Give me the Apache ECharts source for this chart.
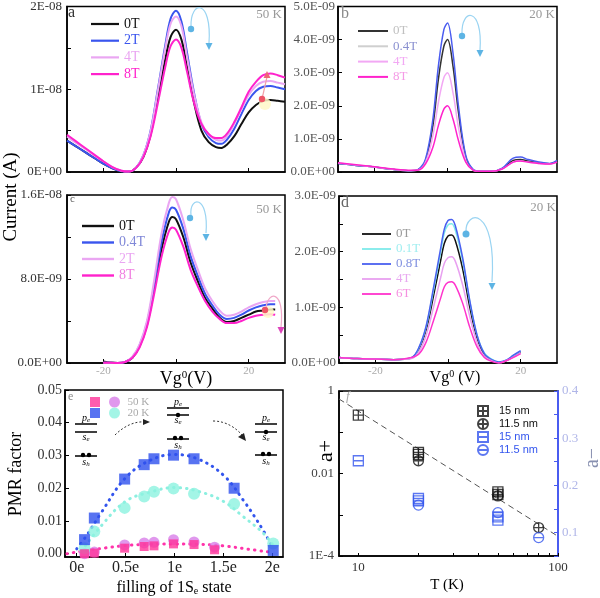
<!DOCTYPE html>
<html><head><meta charset="utf-8">
<script src="https://cdn.jsdelivr.net/npm/echarts@6.0.0/dist/echarts.min.js"></script>
<style>html,body{margin:0;padding:0;background:#fff;}#chart{width:600px;height:598px;}</style>
</head><body><div id="chart"></div>
<script>
// ================= DATA (currents in units of 1E-09 A) =================
const VG_A = [-30,-27.5,-25,-22.5,-20,-17.5,-15,-13,-11,-9,-7,-5,-3,-1.5,0,1.5,3,5,7,9,11,12.5,14,16,18,20,22,24,26,28,30];
const A_0T = [3.8,3.1,2.4,1.7,1.0,0.45,0.1,0.05,0.5,1.8,4.5,9.0,13.5,16.3,17.2,16.0,12.8,8.3,5.0,3.6,3.0,2.9,3.3,4.3,5.8,7.2,8.1,8.6,8.7,8.6,8.5];
const A_2T = [3.8,3.1,2.4,1.7,1.0,0.45,0.1,0.05,0.5,2.0,5.0,10.0,15.2,18.5,19.5,18.2,14.5,9.5,5.8,4.2,3.5,3.4,3.9,5.2,7.0,8.7,9.8,10.3,10.4,10.2,10.0];
const A_4T = [4.3,3.5,2.8,2.0,1.3,0.6,0.15,0.05,0.5,2.0,4.9,9.8,14.8,17.9,18.8,17.6,14.0,9.3,6.0,4.5,3.9,3.8,4.3,5.8,7.6,9.3,10.4,10.9,11.0,10.8,10.6];
const A_8T = [4.5,3.7,2.9,2.1,1.3,0.6,0.15,0.05,0.5,1.8,4.3,8.3,12.6,15.2,16.0,15.0,12.2,8.3,5.8,4.6,4.1,4.1,4.6,6.0,7.8,9.7,10.9,11.7,11.9,11.7,11.4];

const VG_B = [-30,-25,-20,-15,-10,-8,-6,-4,-2.5,-1,0,1.5,3,5,7,9,12,15,18,20,22,25,28,30];
const B_0T  = [0.26,0.20,0.15,0.08,0.04,0.07,0.35,1.4,2.8,3.8,4.0,3.2,1.8,0.45,0.07,0.02,0.02,0.10,0.35,0.38,0.33,0.28,0.25,0.33];
const B_04T = [0.26,0.20,0.15,0.08,0.04,0.08,0.40,1.6,3.2,4.3,4.5,3.6,2.0,0.50,0.08,0.02,0.02,0.12,0.42,0.45,0.38,0.30,0.26,0.35];
const B_4T  = [0.27,0.21,0.15,0.08,0.04,0.06,0.30,1.1,2.1,2.85,3.0,2.4,1.35,0.35,0.06,0.02,0.02,0.09,0.30,0.33,0.30,0.26,0.24,0.30];
const B_8T  = [0.28,0.22,0.16,0.09,0.05,0.06,0.25,0.75,1.4,1.9,2.0,1.6,0.95,0.30,0.06,0.02,0.02,0.09,0.30,0.33,0.30,0.26,0.24,0.30];

const VG_C = [-20,-18,-16,-14,-12,-10,-8,-6,-4,-2,-1,0,2,4,6,8,10,12,14,16,18,20,22,24,26,27.3];
const C_0T  = [0.15,0.05,0.0,0.1,0.5,1.6,3.6,7.0,10.8,13.4,13.9,13.7,12.0,9.6,7.8,6.2,5.2,4.3,3.9,4.0,4.3,4.6,4.9,5.0,5.1,5.1];
const C_04T = [0.02,0.02,0.0,0.1,0.55,1.7,3.8,7.4,11.5,14.3,14.8,14.6,12.8,10.2,8.3,6.6,5.5,4.6,4.2,4.3,4.6,5.0,5.3,5.5,5.6,5.6];
const C_2T  = [0.02,0.02,0.0,0.1,0.6,1.8,4.0,7.9,12.3,15.2,15.8,15.6,13.6,10.9,8.9,7.1,5.9,5.0,4.5,4.6,4.9,5.3,5.6,5.8,5.9,5.9];
const C_8T  = [0.02,0.02,0.0,0.1,0.5,1.5,3.4,6.6,10.1,12.5,12.9,12.7,11.1,8.9,7.3,5.9,4.9,4.2,3.8,3.8,4.0,4.3,4.5,4.6,4.65,4.6];

const VG_D = [-30,-25,-20,-15,-10,-8,-6,-4,-2,-1,0,1,2,4,6,8,10,12,14,16,18,20];
const D_0T  = [0.10,0.08,0.07,0.06,0.09,0.25,0.60,1.20,1.85,2.15,2.28,2.30,2.20,1.70,1.00,0.45,0.15,0.05,0.00,0.04,0.12,0.20];
const D_01T = [0.10,0.08,0.07,0.06,0.09,0.27,0.65,1.30,2.00,2.34,2.48,2.50,2.39,1.85,1.10,0.50,0.18,0.07,0.02,0.05,0.13,0.21];
const D_08T = [0.10,0.08,0.07,0.06,0.10,0.28,0.67,1.35,2.07,2.41,2.56,2.58,2.47,1.90,1.12,0.50,0.17,0.06,0.02,0.05,0.14,0.22];
const D_4T  = [0.10,0.08,0.07,0.06,0.08,0.20,0.50,1.00,1.54,1.79,1.89,1.91,1.83,1.41,0.83,0.37,0.12,0.04,0.00,0.04,0.10,0.18];
const D_6T  = [0.10,0.08,0.07,0.06,0.10,0.16,0.38,0.76,1.17,1.37,1.45,1.46,1.40,1.08,0.64,0.29,0.10,0.03,0.00,0.04,0.10,0.17];

const E_X20 = [0.08,0.18,0.49,0.69,0.79,0.99,1.2,1.61,2.01];
const E_20K_SQ = [0.0043,0.0109,0.0228,0.0272,0.0290,0.0301,0.0290,0.0200,0.0010];
const E_20K_CI = [0.0017,0.0068,0.0140,0.0175,0.0189,0.0199,0.0183,0.0152,0.0031];
const E_X50 = [0.08,0.18,0.49,0.69,0.79,0.99,1.2,1.41];
const E_50K_SQ = [0.0000,0.0002,0.0017,0.0022,0.0024,0.0030,0.0028,0.0012];
const E_50K_CI = [0.0000,0.0005,0.0027,0.0033,0.0035,0.0043,0.0036,0.0020];
const E_FIT20SQ_X = [0.0,0.1,0.25,0.5,0.75,1.0,1.25,1.5,1.7,1.9,2.0];
const E_FIT20SQ_Y = [0.0015,0.0055,0.0125,0.0232,0.0285,0.0303,0.0288,0.0240,0.0165,0.0075,0.0020];
const E_FIT20CI_X = [0.05,0.25,0.5,0.75,1.0,1.25,1.5,1.7,1.9,2.0];
const E_FIT20CI_Y = [0.0008,0.0085,0.0160,0.0188,0.0202,0.0190,0.0160,0.0114,0.0065,0.0030];
const E_FIT50_X = [-0.1,0.1,0.3,0.5,0.75,1.0,1.25,1.5,1.75,2.0];
const E_FIT50_Y = [0.0,0.0010,0.0018,0.0025,0.0029,0.0030,0.0029,0.0024,0.0014,0.0004];

const F_T15 = [10,20,20,50,50];
const F_AP15 = [0.26,0.0325,0.029,0.0036,0.0031];
const F_T115 = [20,50,80];
const F_AP115 = [0.0204,0.00286,0.00049];
const F_AM15 = [0.252,0.172,0.167,0.133,0.126];
const F_AM115 = [0.158,0.142,0.089];
const F_FIT_T = [8,100];
const F_FIT_A = [0.64,0.0003];

// tick labels
const A_YT = [0,10,20], A_YL = ['0E+00','1E-08','2E-08'];
const B_YT = [0,1,2,3,4,5], B_YL = ['0.0E+00','1.0E-09','2.0E-09','3.0E-09','4.0E-09','5.0E-09'];
const C_YT = [0,8,16], C_YL = ['0.0E+00','8.0E-09','1.6E-08'];
const D_YT = [0,1,2,3], D_YL = ['0.0E+00','1.0E-09','2.0E-09','3.0E-09'];
const VG_XT = [-20,20], VG_XL = ['-20','20'];
const E_XT = [0,0.5,1,1.5,2], E_XL = ['0e','0.5e','1e','1.5e','2e'];
const E_YT = [0,0.01,0.02,0.03,0.04,0.05], E_YL = ['0.00','0.01','0.02','0.03','0.04','0.05'];
const F_XT = [10,100], F_XL = ['10','100'];
const F_YT = [1e-4,0.01,1], F_YL = ['1E-4','0.01','1'];
const F_Y2T = [0.1,0.2,0.3,0.4], F_Y2L = ['0.1','0.2','0.3','0.4'];

// ================= HELPERS =================
const SERIF = "'Liberation Serif','DejaVu Serif',serif";
const SANS = "'Liberation Sans',Arial,sans-serif";
function xy(xs, ys){ return xs.map((x,i)=>[x, ys[i]]); }
function labeler(vals, labels){
  return v => { for (let i=0;i<vals.length;i++){ if (Math.abs(v-vals[i]) <= Math.abs(vals[i])*1e-6 + 1e-12) return labels[i]; } return ''; };
}
function curve(name, gi, xs, ys, color, width){
  return {type:'line', name, xAxisIndex:gi, yAxisIndex:gi, data:xy(xs,ys), smooth:0.35,
    symbol:'none', lineStyle:{color, width}, itemStyle:{color}, z:3, animation:false};
}
function vAxis(gi, o){
  return {
    gridIndex:gi, type:o.type||'value', min:o.min, max:o.max, interval:o.interval, position:o.position,
    logBase:o.logBase,
    axisLine:{show:true, onZero:false, lineStyle:{color:o.lineColor||'#000', width:o.lineWidth||1.5}},
    axisTick:Object.assign({show:true, inside:true, length:4, lineStyle:{color:o.lineColor||'#000', width:1}}, o.tick||{}),
    splitLine:{show:false}, minorTick:{show:false},
    axisLabel:Object.assign({show:true, fontFamily:SERIF, fontSize:13, color:'#333', margin:4}, o.label||{})
  };
}
function panelLegend(prefix, items, left, top, fs, gap, iw, lw){
  const icon = 'path://M0,0H' + iw + 'V' + lw + 'H0Z';
  return {orient:'vertical', left, top, itemWidth:iw, itemHeight:fs, itemGap:gap, selectedMode:false,
    symbolKeepAspect:true,
    data:items.map(it=>({name:prefix+'|'+it[0], icon, textStyle:{color:it[2]}, itemStyle:{color:it[1], borderWidth:0}})),
    formatter:n=>n.split('|')[1], textStyle:{fontFamily:SERIF, fontSize:fs, lineHeight:fs}};
}

// ================= GRAPHICS (annotations) =================
const G = [];
function txt(x,y,text,o){ o=o||{}; G.push({type:'text', x, y, rotation:o.rot||0, z:100,
  style:{text, fill:o.color||'#000', fontFamily:o.ff||SERIF, fontSize:o.size||14, fontStyle:o.italic?'italic':'normal',
  align:o.align||'center', verticalAlign:o.va||'middle', rich:o.rich}}); }
function dot(cx,cy,r,fill){ G.push({type:'circle', z:100, shape:{cx,cy,r}, style:{fill}}); }
function bez(p, stroke, w, dash){ G.push({type:'bezierCurve', z:100, shape:{x1:p[0],y1:p[1],cpx1:p[2],cpy1:p[3],cpx2:p[4],cpy2:p[5],x2:p[6],y2:p[7]}, style:{stroke, lineWidth:w, fill:'none', lineDash:dash||null}}); }
function tri(points, fill){ G.push({type:'polygon', z:100, shape:{points}, style:{fill}}); }
function seg(x1,y1,x2,y2,stroke,w){ G.push({type:'line', z:100, shape:{x1,y1,x2,y2}, style:{stroke, lineWidth:w}}); }
function triDown(x,y,c){ tri([[x-3.5,y-7],[x+3.5,y-7],[x,y]],c); }

const ARC='#9ad4f2', ADOT='#5db4e4';
// a
bez([191,27,190,0,212,-2,209,43],ARC,1.2); dot(191,29,3.2,ADOT); triDown(209,50,ADOT);
dot(265,104,6,'rgba(255,248,200,0.85)'); seg(262,99,267,77,'#f2a0a8',1.2); dot(262,99,3.2,'#ee5566');
tri([[263.5,78],[270.5,78],[267,71]],'#ee6677');
// b
bez([462,34,461,8,483,6,480,50],ARC,1.2); dot(462,36,3.2,ADOT); triDown(480,57,ADOT);
// c
bez([191,215,189,196,209,194,206,233],ARC,1.2); dot(190,218,3.2,ADOT); triDown(206,241,ADOT);
dot(268,312,6,'rgba(255,248,200,0.85)'); bez([266,308,268,290,285,290,281,327],'#f0a8c8',1.2);
dot(265,310,3.2,'#ee5566'); triDown(281,334,'#dd44bb');
// d
bez([466,232,465,210,497,205,492,282],ARC,1.2); dot(466,234,3.5,ADOT); triDown(492,290,ADOT);

// panel letters and temperatures
txt(68,13,'a',{size:16,color:'#333',align:'left'});
txt(341,14,'b',{size:16,color:'#888',align:'left'});
txt(70,199,'c',{size:11,color:'#555',align:'left'});
txt(341,203,'d',{size:16,color:'#666',align:'left'});
txt(68,397,'e',{size:12,color:'#888',align:'left'});
txt(346,397,'f',{size:13,color:'#aaa',align:'left',italic:true});
txt(282,15,'50 K',{size:13,color:'#999',align:'right'});
txt(555,15,'20 K',{size:13,color:'#999',align:'right'});
txt(282,210,'50 K',{size:13,color:'#999',align:'right'});
txt(556,208,'20 K',{size:13,color:'#999',align:'right'});

// axis titles
txt(11,197,'Current (A)',{size:19,rot:Math.PI/2});
txt(16,474,'PMR factor',{size:18,rot:Math.PI/2});
txt(174,588,'filling of 1S{s|e} state',{size:16,rich:{s:{fontSize:10,fontFamily:SERIF,fill:'#000',padding:[7,0,0,0]}}});
txt(326,451,'a+',{size:22,rot:Math.PI/2});
txt(593,458,'a\u2212',{size:20,rot:Math.PI/2,color:'#8890b0'});
txt(447,585,'T (K)',{size:15});
txt(186,379,'Vg{s|0}(V)',{size:18,rich:{s:{fontSize:11,fontFamily:SERIF,fill:'#000',padding:[0,0,8,0]}}});
txt(455,378,'Vg{s|0} (V)',{size:16,rich:{s:{fontSize:10,fontFamily:SERIF,fill:'#000',padding:[0,0,7,0]}}});

// energy-level sketches in panel e
const LV_RICH = {i:{fontFamily:SERIF,fontStyle:'italic',fontSize:10,fill:'#000'}, s:{fontFamily:SERIF,fontStyle:'italic',fontSize:7,fill:'#000',padding:[5,0,0,0]}};
function level(x,yPe,ySe,ySh,eDot){
  seg(x,yPe,x+22,yPe,'#000',1.5); seg(x,ySe,x+22,ySe,'#000',1.5); seg(x,ySh,x+22,ySh,'#000',1.5);
  txt(x+11,yPe-6,'{i|p}{s|e}',{rich:LV_RICH,size:10});
  txt(x+11,ySe+5,'{i|s}{s|e}',{rich:LV_RICH,size:10});
  dot(x+8,ySh-1,2.2,'#000'); dot(x+14,ySh-1,2.2,'#000');
  txt(x+11,ySh+6,'{i|s}{s|h}',{rich:LV_RICH,size:10});
  if (eDot) dot(x+11,ySe,2.2,'#000');
}
level(75,424,432,456,false);
level(167,408,415,439,true);
level(255,424,432,455,true);
bez([115,435,124,426,135,421,145,422],'#333',1,[2,2]); tri([[143,419],[143,425],[150,422]],'#222');
bez([213,421,226,421,236,428,242,435],'#333',1,[2,2]); tri([[238,437],[244,433],[246,441]],'#222');

// ================= SYMBOLS =================
const SQ_PLUS = 'path://M1,1H19V19H1Z M10,1V19 M1,10H19';
const CI_PLUS = 'path://M1,10A9,9 0 1,1 19,10A9,9 0 1,1 1,10Z M10,1V19 M1,10H19';
const SQ_MINUS = 'path://M1,1H19V19H1Z M1,10H19';
const CI_MINUS = 'path://M1,10A9,9 0 1,1 19,10A9,9 0 1,1 1,10Z M1,10H19';

// ================= OPTION =================
const BLK='#111', BLU='#3a55ee', LAV='#eaa6f2', MAG='#ff22cc', CYN='#7eeaea';
const vgTick = {customValues:[-20,0,20]};
const DOTS = {width:3, type:[0.5,6], cap:'round'};
const option = {
  animation:false,
  backgroundColor:'#fff',
  grid:[
    {left:67, top:5, width:218, height:167},
    {left:338, top:5, width:219, height:167},
    {left:67, top:195, width:218, height:168},
    {left:339, top:196, width:218, height:167},
    {left:65, top:390, width:218, height:167},
    {left:339, top:391, width:219, height:165}
  ].map(g=>Object.assign({show:true, borderColor:'#000', borderWidth:1.5, containLabel:false}, g)),
  xAxis:[
    vAxis(0,{min:-30,max:30,tick:vgTick,label:{show:false}}),
    vAxis(1,{min:-30,max:30,tick:vgTick,label:{show:false}}),
    vAxis(2,{min:-30,max:30,tick:vgTick,label:{customValues:VG_XT,formatter:labeler(VG_XT,VG_XL),color:'#aaa',fontSize:11,margin:3}}),
    vAxis(3,{min:-30,max:30,tick:vgTick,label:{customValues:VG_XT,formatter:labeler(VG_XT,VG_XL),color:'#aaa',fontSize:11,margin:3}}),
    vAxis(4,{min:-0.12,max:2.11,tick:{customValues:E_XT},label:{customValues:E_XT,formatter:labeler(E_XT,E_XL),fontSize:16,color:'#222',margin:3}}),
    vAxis(5,{type:'log',logBase:10,min:8,max:100,tick:{customValues:[10,20,30,40,50,60,70,80,90,100],length:3},label:{formatter:labeler(F_XT,F_XL),fontSize:13,color:'#333',margin:5}})
  ],
  yAxis:[
    vAxis(0,{min:0,max:20,interval:5,label:{formatter:labeler(A_YT,A_YL),margin:5}}),
    vAxis(1,{min:0,max:5,interval:1,label:{formatter:labeler(B_YT,B_YL),margin:3,color:'#555'}}),
    vAxis(2,{min:0,max:16,interval:4,label:{formatter:labeler(C_YT,C_YL),margin:5}}),
    vAxis(3,{min:0,max:3,interval:0.5,label:{formatter:labeler(D_YT,D_YL),margin:3,color:'#555'}}),
    vAxis(4,{min:-0.001,max:0.05,tick:{customValues:E_YT},label:{customValues:E_YT,formatter:labeler(E_YT,E_YL),fontSize:14,margin:3}}),
    vAxis(5,{type:'log',logBase:10,min:1e-4,max:1,label:{formatter:labeler(F_YT,F_YL),margin:5,color:'#444'}}),
    vAxis(5,{min:0.05,max:0.4,interval:0.05,position:'right',lineColor:'#4a5cf0',lineWidth:2,label:{formatter:labeler(F_Y2T,F_Y2L),color:'#b0b6e8',margin:4}})
  ],
  legend:[
    panelLegend('a',[['0T',BLK,BLK],['2T',BLU,BLU],['4T',LAV,LAV],['8T',MAG,MAG]],86,12,14,2.7,28,2.2),
    panelLegend('b',[['0T','#333','#c0c0c0'],['0.4T','#cfcfcf','#8a90d0'],['4T','#f2a8f4','#f2a8f4'],['8T',MAG,'#f59ae6']],353,19.5,13,2.3,30,2),
    panelLegend('c',[['0T',BLK,BLK],['0.4T',BLU,'#8088d8'],['2T',LAV,LAV],['8T',MAG,'#f080e0']],77,214,14,2.5,32,2.4),
    panelLegend('d',[['0T',BLK,'#999'],['0.1T',CYN,'#a0eef0'],['0.8T','#4a60f0','#8090e0'],['4T','#e8a0f0','#e8a8f0'],['6T','#ff33cc','#f590e0']],357,222.5,13,2,29,1.8),
    {orient:'vertical', left:85, top:392, itemWidth:10, itemHeight:10, itemGap:1, selectedMode:false,
      data:['e|50K sq','e|20K sq'], formatter:()=>'', textStyle:{fontSize:10,lineHeight:10}},
    {orient:'vertical', left:104, top:391.5, itemWidth:12, itemHeight:11, itemGap:0, selectedMode:false,
      data:['e|50 K','e|20 K'], formatter:n=>n.split('|')[1],
      textStyle:{fontFamily:SERIF, fontSize:11, lineHeight:11, color:'#aaa', padding:[0,0,0,2]}},
    {orient:'vertical', left:472, top:400, itemWidth:10, itemHeight:10, itemGap:1, selectedMode:false,
      data:[{name:'f|15 nm|a',textStyle:{color:'#111'}},{name:'f|11.5 nm|b',textStyle:{color:'#111'}},
            {name:'f|15 nm|c',textStyle:{color:'#3355ee'}},{name:'f|11.5 nm|d',textStyle:{color:'#3355ee'}}],
      formatter:n=>n.split('|')[1], textStyle:{fontFamily:SANS, fontSize:11, lineHeight:10, padding:[0,0,0,6]}}
  ],
  series:[
    curve('a|0T',0,VG_A,A_0T,BLK,2), curve('a|2T',0,VG_A,A_2T,BLU,2), curve('a|4T',0,VG_A,A_4T,LAV,2), curve('a|8T',0,VG_A,A_8T,MAG,2),
    curve('b|0T',1,VG_B,B_0T,'#333',1.5), curve('b|0.4T',1,VG_B,B_04T,'#4a5cf0',1.5), curve('b|4T',1,VG_B,B_4T,'#f2a8f4',1.5), curve('b|8T',1,VG_B,B_8T,MAG,1.5),
    curve('c|0T',2,VG_C,C_0T,BLK,2), curve('c|0.4T',2,VG_C,C_04T,BLU,2), curve('c|2T',2,VG_C,C_2T,LAV,2), curve('c|8T',2,VG_C,C_8T,MAG,2),
    curve('d|0T',3,VG_D,D_0T,BLK,1.5), curve('d|0.1T',3,VG_D,D_01T,CYN,1.5), curve('d|0.8T',3,VG_D,D_08T,'#4a60f0',1.5), curve('d|4T',3,VG_D,D_4T,'#e8a0f0',1.5), curve('d|6T',3,VG_D,D_6T,'#ff33cc',1.5),
    // panel e fits
    {type:'line', name:'e|fit20sq', xAxisIndex:4, yAxisIndex:4, data:xy(E_FIT20SQ_X,E_FIT20SQ_Y), smooth:0.4, symbol:'none', lineStyle:Object.assign({color:'#3355ee'},DOTS)},
    {type:'line', name:'e|fit20ci', xAxisIndex:4, yAxisIndex:4, data:xy(E_FIT20CI_X,E_FIT20CI_Y), smooth:0.4, symbol:'none', lineStyle:Object.assign({color:'#8cefe0'},DOTS)},
    {type:'line', name:'e|fit50', xAxisIndex:4, yAxisIndex:4, data:xy(E_FIT50_X,E_FIT50_Y), smooth:0.4, symbol:'none', lineStyle:Object.assign({color:'#ff33aa'},DOTS)},
    {type:'scatter', name:'e|50 K', xAxisIndex:4, yAxisIndex:4, data:xy(E_X50,E_50K_CI), symbol:'circle', symbolSize:11, itemStyle:{color:'#d87ee8'}, z:4},
    {type:'scatter', name:'e|20 K', xAxisIndex:4, yAxisIndex:4, data:xy(E_X20,E_20K_CI), symbol:'circle', symbolSize:12, itemStyle:{color:'#8cf2e0'}, z:4},
    {type:'scatter', name:'e|50K sq', xAxisIndex:4, yAxisIndex:4, data:xy(E_X50,E_50K_SQ), symbol:'rect', symbolSize:9, itemStyle:{color:'#ff3399'}, z:5},
    {type:'scatter', name:'e|20K sq', xAxisIndex:4, yAxisIndex:4, data:xy(E_X20,E_20K_SQ), symbol:'rect', symbolSize:11, itemStyle:{color:'#2e50ee'}, z:5},
    // panel f
    {type:'line', name:'f|fit', xAxisIndex:5, yAxisIndex:5, data:xy(F_FIT_T,F_FIT_A), symbol:'none', lineStyle:{color:'#555', width:1, type:[6,4]}},
    {type:'scatter', name:'f|15 nm|a', xAxisIndex:5, yAxisIndex:5, data:xy(F_T15,F_AP15), symbol:SQ_PLUS, symbolSize:10, itemStyle:{color:'transparent', borderColor:'#111', borderWidth:1.3}, z:5},
    {type:'scatter', name:'f|11.5 nm|b', xAxisIndex:5, yAxisIndex:5, data:xy(F_T115,F_AP115), symbol:CI_PLUS, symbolSize:10, itemStyle:{color:'transparent', borderColor:'#111', borderWidth:1.3}, z:5},
    {type:'scatter', name:'f|15 nm|c', xAxisIndex:5, yAxisIndex:6, data:xy(F_T15,F_AM15), symbol:SQ_MINUS, symbolSize:10, itemStyle:{color:'transparent', borderColor:'#3355ee', borderWidth:1.3}, z:5},
    {type:'scatter', name:'f|11.5 nm|d', xAxisIndex:5, yAxisIndex:6, data:xy(F_T115,F_AM115), symbol:CI_MINUS, symbolSize:10, itemStyle:{color:'transparent', borderColor:'#3355ee', borderWidth:1.3}, z:5}
  ],
  graphic:{elements:G}
};
const chart = echarts.init(document.getElementById('chart'), null, {renderer:'canvas'});
chart.setOption(option);
</script></body></html>
